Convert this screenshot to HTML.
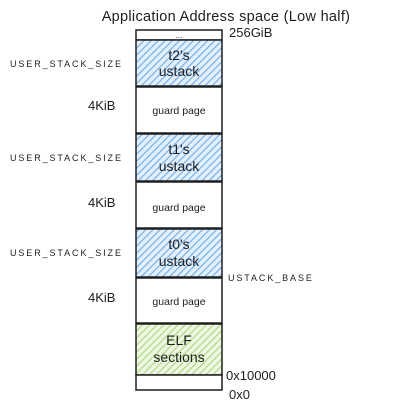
<!DOCTYPE html>
<html><head><meta charset="utf-8"><style>
html,body{margin:0;padding:0;background:#fff;width:420px;height:403px;overflow:hidden}
text{font-family:"Liberation Sans",sans-serif;fill:#1e1e1e}
</style></head><body>
<svg width="420" height="403" viewBox="0 0 420 403" xmlns="http://www.w3.org/2000/svg">
<defs>
<pattern id="hb" width="5" height="5" patternUnits="userSpaceOnUse" patternTransform="rotate(45)">
<rect width="5" height="5" fill="#e3effb"/><line x1="0" y1="0" x2="0" y2="5" stroke="#6aaceb" stroke-width="2.2"/></pattern>
<pattern id="hg" width="5" height="5" patternUnits="userSpaceOnUse" patternTransform="rotate(45)">
<rect width="5" height="5" fill="#eef7e3"/><line x1="0" y1="0" x2="0" y2="5" stroke="#a8d878" stroke-width="2.2"/></pattern>
</defs>
<text x="226" y="21" font-size="14.5" text-anchor="middle" letter-spacing="0.3">Application Address space (Low half)</text>
<g stroke="#1e1e1e" stroke-width="1.5">
<rect x="136" y="30" width="86" height="10" fill="#fff"/>
<rect x="136" y="40" width="86" height="46" fill="url(#hb)"/>
<rect x="136" y="87" width="86" height="46" fill="#fff"/>
<rect x="136" y="134" width="86" height="47" fill="url(#hb)"/>
<rect x="136" y="182" width="86" height="46" fill="#fff"/>
<rect x="136" y="229" width="86" height="48" fill="url(#hb)"/>
<rect x="136" y="278" width="86" height="45" fill="#fff"/>
<rect x="136" y="324" width="86" height="51" fill="url(#hg)"/>
<rect x="136" y="375" width="86" height="15" fill="#fff"/>
</g>
<text x="179" y="38" font-size="8" text-anchor="middle">...</text>
<g font-size="14" text-anchor="middle">
<text x="179" y="60">t2's</text><text x="179" y="76">ustack</text>
<text x="179" y="154">t1's</text><text x="179" y="171">ustack</text>
<text x="179" y="249">t0's</text><text x="179" y="266">ustack</text>
<text x="179" y="345">ELF</text><text x="179" y="362">sections</text>
</g>
<g font-size="10.5" text-anchor="middle">
<text x="179" y="114">guard page</text>
<text x="179" y="211">guard page</text>
<text x="179" y="305">guard page</text>
</g>
<g font-size="9" letter-spacing="1.9">
<text x="10" y="67">USER_STACK_SIZE</text>
<text x="10" y="161">USER_STACK_SIZE</text>
<text x="10" y="256">USER_STACK_SIZE</text>
<text x="228" y="281">USTACK_BASE</text>
</g>
<g font-size="13">
<text x="88" y="110">4KiB</text>
<text x="88" y="207">4KiB</text>
<text x="88" y="302">4KiB</text>
<text x="229" y="37">256GiB</text>
<text x="226" y="380">0x10000</text>
<text x="229" y="399">0x0</text>
</g>
</svg>
</body></html>
